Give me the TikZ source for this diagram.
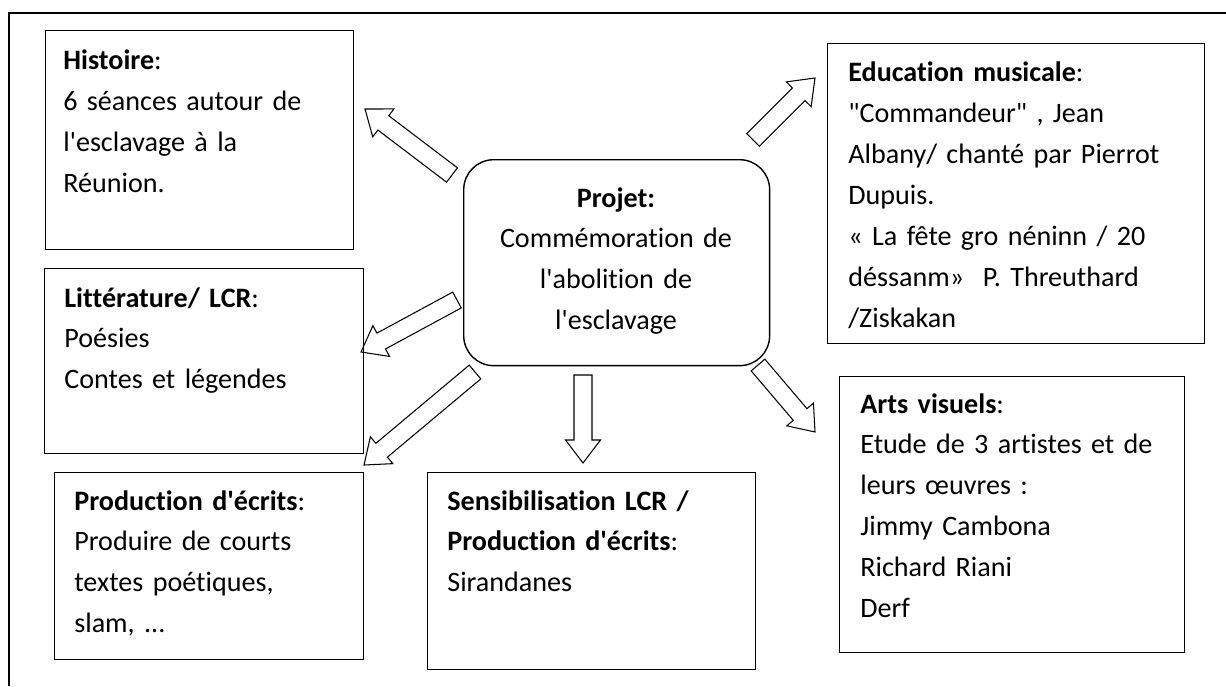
\documentclass[tikz,border=0pt]{standalone}
\usepackage{fontspec}
\newfontfamily\boxfont{Carlito}[Ligatures=CommonOff]
\usetikzlibrary{calc}
\begin{document}
\begin{tikzpicture}[x=0.02cm, y=-0.02cm,
  box/.style={draw, line width=0.8pt, inner sep=0pt, anchor=north west},
  boxtext/.style={font=\boxfont\fontsize{16}{23.3}\selectfont, inner sep=0pt, anchor=base west, text width=9cm, align=left},
  fat arrow/.style={line width=0.6pt, line join=miter, to path={
    ($(\tikztostart)!0.18cm!90:(\tikztotarget)$)
    -- ($(\tikztotarget)!0.494cm!-21.37:(\tikztostart)$)
    -- ($(\tikztotarget)!0.578cm!-37.27:(\tikztostart)$)
    -- (\tikztotarget)
    -- ($(\tikztotarget)!0.578cm!37.27:(\tikztostart)$)
    -- ($(\tikztotarget)!0.494cm!21.37:(\tikztostart)$)
    -- ($(\tikztostart)!0.18cm!-90:(\tikztotarget)$)
    -- cycle}}]
\useasboundingbox (0,0) rectangle (1226,686);
\draw[line width=1.2pt] (1226,13) -- (9,13) -- (9,686);
% centre
\node[box, rounded corners=0.6cm, minimum width=6.12cm, minimum height=4.12cm] (projet) at (463,159) {};
\node[boxtext, anchor=base, text width=6cm, align=center] (projettxt) at (616,207) {\textbf{Projet:}\\Commémoration de\\l'abolition de\\l'esclavage};
% boxes
\node[box, minimum width=6.16cm, minimum height=4.38cm] (hist) at (45,30) {};
\node[boxtext] (histtxt) at (63,70) {\textbf{Histoire}:\\6 séances autour de\\l'esclavage à la\\Réunion.};
\node[box, minimum width=7.54cm, minimum height=6.00cm] (musi) at (827,43) {};
\node[boxtext] (musitxt) at (848,82) {\textbf{Education musicale}:\\"Commandeur" , Jean\\Albany/ chanté par Pierrot\\Dupuis.\\« La fête gro néninn / 20\\déssanm»~~P. Threuthard\\/Ziskakan};
\node[box, minimum width=6.38cm, minimum height=3.70cm] (litt) at (44,268) {};
\node[boxtext] (litttxt) at (64,307) {\textbf{Littérature/ LCR}:\\Poésies\\Contes et légendes};
\node[box, minimum width=6.18cm, minimum height=3.74cm] (prod) at (54,472) {};
\node[boxtext] (prodtxt) at (74,510) {\textbf{Production d'écrits}:\\Produire de courts\\textes poétiques,\\slam, ...};
\node[box, minimum width=6.56cm, minimum height=3.94cm] (sens) at (427,472) {};
\node[boxtext] (senstxt) at (447,510) {\textbf{Sensibilisation LCR /}\\\textbf{Production d'écrits}:\\Sirandanes};
\node[box, minimum width=6.90cm, minimum height=5.52cm] (arts) at (839,376) {};
\node[boxtext] (artstxt) at (860,413) {\textbf{Arts visuels}:\\Etude de 3 artistes et de\\leurs œuvres :\\Jimmy Cambona\\Richard Riani\\Derf};
% arrows
\coordinate (hist-tail) at (452,175);
\coordinate (hist-tip) at (365,109);
\coordinate (musi-tail) at (753,140);
\coordinate (musi-tip) at (815,78);
\coordinate (litt-tail) at (457,300);
\coordinate (litt-tip) at (361,352);
\coordinate (prod-tail) at (475,372);
\coordinate (prod-tip) at (364,465);
\coordinate (sens-tail) at (583,375);
\coordinate (sens-tip) at (583,463);
\coordinate (arts-tail) at (758,365);
\coordinate (arts-tip) at (815,432);
\draw[fat arrow] (hist-tail) to (hist-tip);
\draw[fat arrow] (musi-tail) to (musi-tip);
\draw[fat arrow] (litt-tail) to (litt-tip);
\draw[fat arrow] (prod-tail) to (prod-tip);
\draw[fat arrow] (sens-tail) to (sens-tip);
\draw[fat arrow] (arts-tail) to (arts-tip);
\end{tikzpicture}
\end{document}
